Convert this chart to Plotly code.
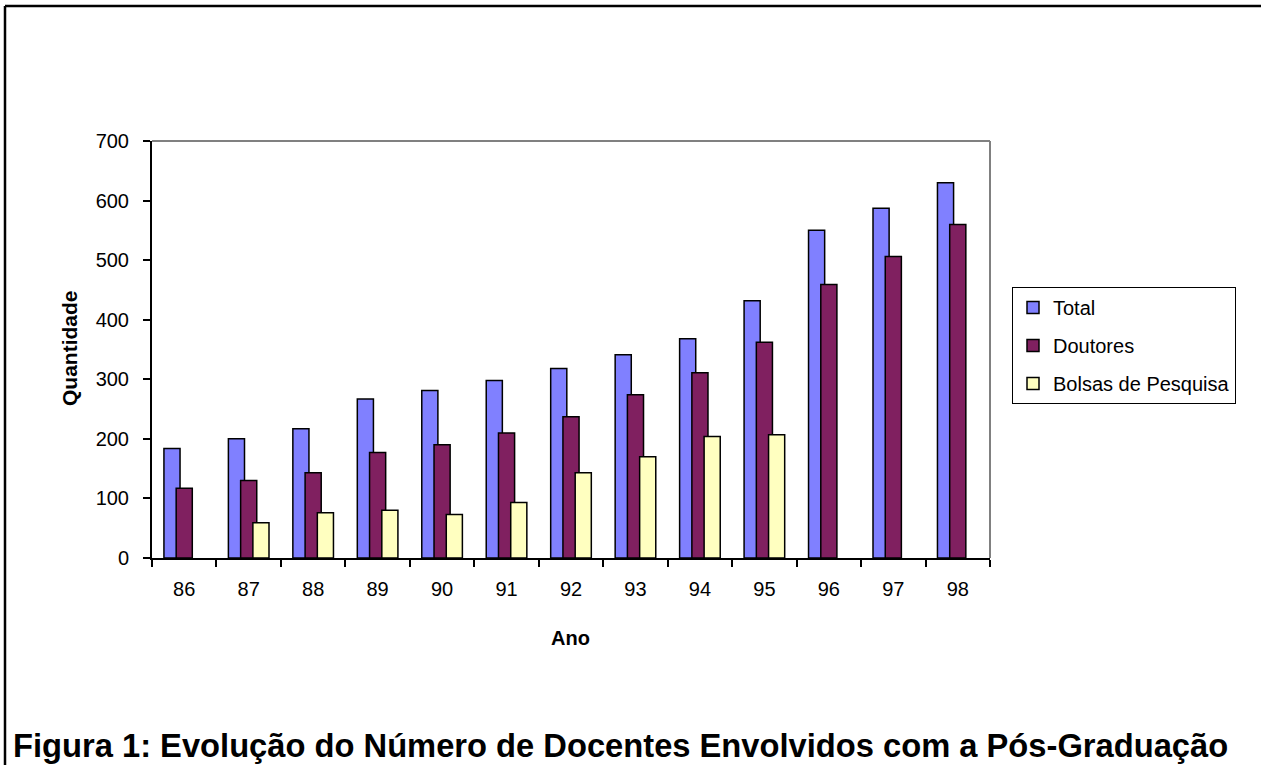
import plotly.graph_objects as go

anos = ["86", "87", "88", "89", "90", "91", "92", "93", "94", "95", "96", "97", "98"]
total = [184, 200, 217, 267, 281, 298, 318, 341, 368, 432, 550, 587, 630]
doutores = [117, 130, 143, 177, 190, 210, 237, 274, 311, 362, 459, 506, 560]
bolsas = [None, 59, 76, 80, 73, 93, 143, 170, 204, 207, None, None, None]

series_names = ["Total", "Doutores", "Bolsas de Pesquisa"]
colors = ["#8080FF", "#802060", "#FFFFC0"]
offsets = [-0.315, -0.125, 0.065]
bar_width = 0.25

FONT = "Liberation Sans, Arial, sans-serif"

fig = go.Figure()
for i, (name, vals) in enumerate(zip(series_names, [total, doutores, bolsas])):
    fig.add_trace(go.Bar(
        x=anos, y=vals, name=name,
        marker=dict(color=colors[i], line=dict(color="black", width=1.5)),
        width=bar_width, offset=offsets[i],
        legendgroup=f"g{i}",
    ))

W, H = 1261, 765
L, R, T, B = 152, 990, 141, 558

def px_x(p):
    return (p - L) / (R - L)

def px_y(p):
    return (B - p) / (B - T)

fig.update_layout(
    width=W, height=H,
    margin=dict(l=L, r=W - R, t=T, b=H - B),
    paper_bgcolor="white", plot_bgcolor="white",
    barmode="overlay",
    font=dict(family=FONT, size=20, color="black"),
    showlegend=True,
    legend=dict(
        x=px_x(1012), y=px_y(287), xanchor="left", yanchor="top",
        bordercolor="black", borderwidth=1, bgcolor="white",
        font=dict(family=FONT, size=20, color="black"),
        tracegroupgap=9, traceorder="grouped",
    ),
    xaxis=dict(
        type="category", tickson="boundaries",
        ticks="outside", ticklen=7, tickwidth=2, tickcolor="black",
        showline=True, linecolor="black", linewidth=2,
        showgrid=False, zeroline=False,
        tickfont=dict(family=FONT, size=20),
        ticklabelstandoff=12,
    ),
    yaxis=dict(
        range=[0, 700], dtick=100,
        ticks="outside", ticklen=7, tickwidth=2, tickcolor="black",
        showline=True, linecolor="black", linewidth=2,
        showgrid=False, zeroline=False,
        tickfont=dict(family=FONT, size=20),
        ticklabelstandoff=10,
    ),
    shapes=[
        dict(type="line", xref="paper", yref="paper", x0=0, x1=1, y0=1, y1=1,
             line=dict(color="#808080", width=2)),
        dict(type="line", xref="paper", yref="paper", x0=1, x1=1, y0=0, y1=1,
             line=dict(color="#808080", width=2)),
        dict(type="line", xref="paper", yref="paper", x0=px_x(5), x1=px_x(1262), y0=px_y(6), y1=px_y(6),
             line=dict(color="black", width=2.5)),
        dict(type="line", xref="paper", yref="paper", x0=px_x(5), x1=px_x(5), y0=px_y(6), y1=px_y(766),
             line=dict(color="black", width=2.5)),
    ],
    annotations=[
        dict(text="<b>Figura 1: Evolução do Número de Docentes Envolvidos com a Pós-Graduação</b>",
             xref="paper", yref="paper", x=px_x(11), y=px_y(745),
             xanchor="left", yanchor="middle", showarrow=False,
             font=dict(family=FONT, size=32.7, color="black")),
        dict(text="<b>Ano</b>", xref="paper", yref="paper", x=px_x(570), y=px_y(638),
             xanchor="center", yanchor="middle", showarrow=False,
             font=dict(family=FONT, size=20, color="black")),
        dict(text="<b>Quantidade</b>", xref="paper", yref="paper", x=px_x(69), y=px_y(348),
             xanchor="center", yanchor="middle", showarrow=False, textangle=-90,
             font=dict(family=FONT, size=21, color="black")),
    ],
)

fig.write_html("out.html", config={"displayModeBar": False},
               post_script="document.body.style.margin='0';document.body.style.padding='0';")
